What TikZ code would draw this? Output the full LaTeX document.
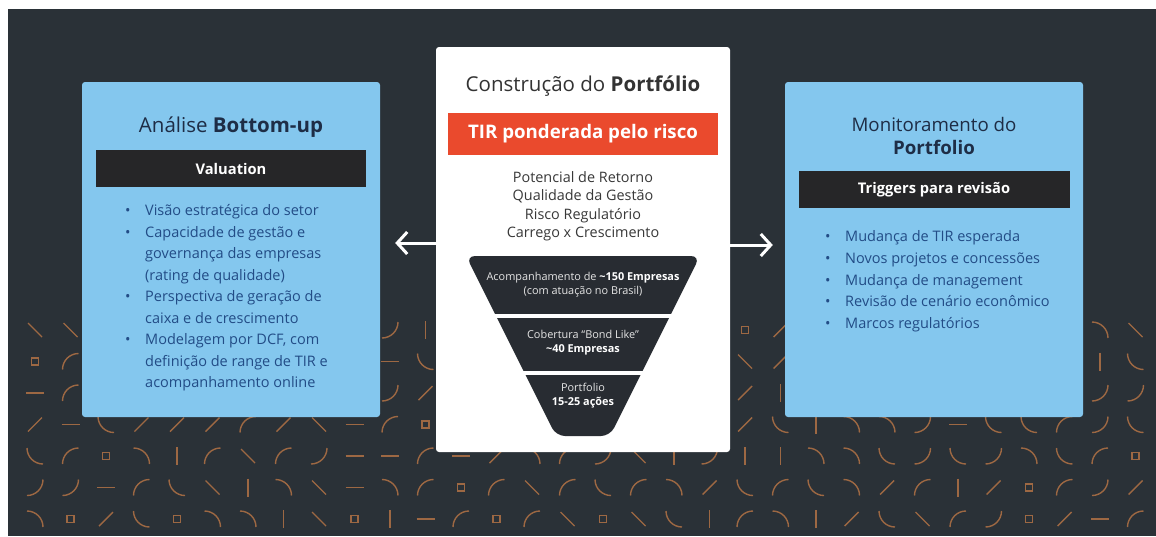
\documentclass[tikz,border=0pt]{standalone}
\usepackage{fontspec}
\setmainfont{Open Sans}
\usetikzlibrary{arrows.meta}

\definecolor{slate}{RGB}{42,49,55}
\definecolor{skyblue}{RGB}{132,199,238}
\definecolor{navy}{RGB}{34,76,134}
\definecolor{inkblue}{RGB}{30,45,70}
\definecolor{barblack}{RGB}{38,38,40}
\definecolor{tirred}{RGB}{234,74,45}
\definecolor{funnelgray}{RGB}{40,44,50}
\definecolor{copper}{RGB}{186,118,70}

% bullet and hanging indent for the lists
\newcommand{\bul}{\makebox[20pt][l]{\textbullet}}
\newcommand{\ind}{\hspace*{20pt}}

\begin{document}
\begin{tikzpicture}[x=1pt, y=-1pt,
    panel_style/.style = {rectangle, rounded corners=3pt, fill=skyblue, inner sep=0pt},
    title_style/.style = {align=center, text=inkblue, font=\fontsize{20.5}{23}\selectfont},
    bar_style/.style = {rectangle, fill=barblack, text=white, minimum width=270pt,
                        minimum height=37pt, font=\bfseries\fontsize{14.7}{17}\selectfont},
    list_style/.style = {align=left, inner sep=0pt, text=navy,
                         font=\fontsize{14.5}{21.5}\selectfont},
    band_style/.style = {align=center, text=white!80!gray, font=\fontsize{10.9}{14}\selectfont},
    glyph_style/.style = {draw=copper, line width=1.4pt, opacity=0.8},
    arrow_style/.style = {-{Straight Barb[length=10pt, width=22pt]}, white, line width=3pt}]

% backdrop
\fill[white] (0,0) rectangle (1156,536);
\fill[slate] (8,9) rectangle (1156,536);
\useasboundingbox (0,0) rectangle (1156,536);

% copper line pattern along the bottom
\pgfmathsetseed{11}
\foreach \row in {0,...,6}{
  \foreach \col in {0,...,31}{
    \pgfmathsetmacro{\gx}{35+35.5*\col}
    \pgfmathsetmacro{\gy}{330+31.5*\row}
    \pgfmathtruncatemacro{\gk}{random(1,9)}
    \ifcase\gk\or
      \draw[glyph_style, shift={(\gx,\gy)}] (-9,0) -- (9,0);
    \or
      \draw[glyph_style, shift={(\gx,\gy)}] (0,-9) -- (0,9);
    \or
      \draw[glyph_style, shift={(\gx,\gy)}] (-7,7) -- (7,-7);
    \or
      \draw[glyph_style, shift={(\gx,\gy)}] (-7,-7) -- (7,7);
    \or
      \draw[glyph_style, shift={(\gx,\gy)}] (-3.5,-3.5) rectangle (3.5,3.5);
    \else
      \pgfmathsetmacro{\ga}{90*(\gk-6)}
      \draw[glyph_style, shift={(\gx,\gy)}, rotate=\ga] (-8,8) arc[start angle=180, end angle=270, radius=16];
    \fi
  }
}

% Left panel: bottom-up analysis
\node[panel_style, minimum width=298pt, minimum height=335pt] (bottomup) at (231,249.5) {};
\node[title_style, above of=bottomup, node distance=122.5pt] (bottomup_title) {Análise \textbf{Bottom-up}};
\node[bar_style, below of=bottomup_title, node distance=41.5pt] (valuation) {Valuation};
\node[list_style, anchor=north west] (bottomup_list) at (125,204.5) {%
    \bul Visão estratégica do setor\\
    \bul Capacidade de gestão e\\
    \ind governança das empresas\\
    \ind (rating de qualidade)\\
    \bul Perspectiva de geração de\\
    \ind caixa e de crescimento\\
    \bul Modelagem por DCF, com\\
    \ind definição de range de TIR e\\
    \ind acompanhamento online};

% Center panel: portfolio construction
\node[panel_style, fill=white, minimum width=294pt, minimum height=405pt] (portfolio) at (583,249.5) {};
\node[title_style, text=black!80, above of=portfolio, node distance=163.5pt] (portfolio_title) {Construção do \textbf{Portfólio}};
\node[bar_style, fill=tirred, minimum height=42pt, font=\bfseries\fontsize{18.7}{21}\selectfont,
      below of=portfolio_title, node distance=48pt] (tir) {TIR ponderada pelo risco};
\node[align=center, text=black!78, font=\fontsize{14.4}{18.5}\selectfont,
      below of=tir, node distance=72.5pt] (factors) {%
    Potencial de Retorno\\
    Qualidade da Gestão\\
    Risco Regulatório\\
    Carrego x Crescimento};

% funnel with three bands
\fill[funnelgray, rounded corners=9pt] (466,256) -- (700,256) -- (610,436) -- (556,436) -- cycle;
\draw[white, line width=4pt] (470,316) -- (696,316);
\draw[white, line width=4pt] (470,373) -- (696,373);
\node[band_style] (band_top) at (583,284.5) {%
    Acompanhamento de \textcolor{white}{\textbf{\textasciitilde150 Empresas}}\\
    (com atuação no Brasil)};
\node[band_style] (band_mid) at (583,343) {%
    Cobertura “Bond Like”\\
    \textcolor{white}{\textbf{\textasciitilde40 Empresas}}};
\node[band_style] (band_low) at (583,396) {%
    Portfolio\\
    \textcolor{white}{\textbf{15-25 ações}}};

% Right panel: portfolio monitoring
\node[panel_style, minimum width=298pt, minimum height=335pt] (monitor) at (934,249.5) {};
\node[title_style, font=\fontsize{18.7}{23}\selectfont, above of=monitor, node distance=114pt] (monitor_title) {Monitoramento do\\ \textbf{Portfolio}};
\node[bar_style, minimum width=271pt, below of=monitor_title, node distance=54pt] (triggers) {Triggers para revisão};
\node[list_style, font=\fontsize{14.5}{21.75}\selectfont, anchor=north west] (monitor_list) at (825,230.5) {%
    \bul Mudança de TIR esperada\\
    \bul Novos projetos e concessões\\
    \bul Mudança de management\\
    \bul Revisão de cenário econômico\\
    \bul Marcos regulatórios};

% portfolio feeds both sides
\draw[arrow_style, shorten >=15pt] ([yshift=6.5pt]portfolio.west) -- ([yshift=6.5pt]bottomup.east);
\draw[arrow_style, shorten >=12pt] ([yshift=4.5pt]portfolio.east) -- ([yshift=4.5pt]monitor.west);

\end{tikzpicture}
\end{document}
